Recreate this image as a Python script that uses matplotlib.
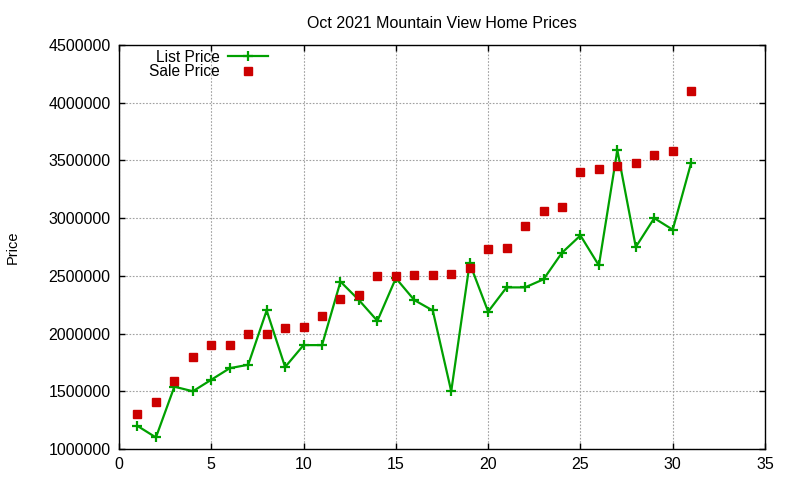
import matplotlib
matplotlib.use("Agg")
import matplotlib.pyplot as plt
from matplotlib.ticker import MultipleLocator, FormatStrFormatter

# data (day of month, price)
days = list(range(1, 32))
list_price = [1200000, 1100000, 1540000, 1500000, 1600000, 1700000, 1730000, 2200000,
              1710000, 1900000, 1900000, 2450000, 2290000, 2110000, 2480000, 2290000,
              2200000, 1500000, 2610000, 2190000, 2400000, 2400000, 2470000, 2700000,
              2850000, 2590000, 3590000, 2750000, 3000000, 2900000, 3480000]
sale_price = [1300000, 1410000, 1590000, 1800000, 1900000, 1900000, 2000000, 2000000,
              2050000, 2060000, 2150000, 2300000, 2330000, 2500000, 2500000, 2510000,
              2510000, 2520000, 2570000, 2730000, 2740000, 2930000, 3060000, 3100000,
              3400000, 3430000, 3450000, 3480000, 3550000, 3580000, 4100000]

plt.rcParams["font.family"] = ["Liberation Sans", "DejaVu Sans"]
plt.rcParams["font.size"] = 11.5

fig = plt.figure(figsize=(8, 4.8), dpi=100)
ax = fig.add_axes([119 / 800, 31 / 480, 646 / 800, 404 / 480])

ax.plot(days, list_price, color="#00a000", lw=1.6, marker="+", ms=7, mew=1.6,
        label="List Price", zorder=3)
ax.plot(days, sale_price, ls="none", color="#cc0000", marker="s", ms=5.8,
        label="Sale Price", zorder=4)

ax.set_xlim(0, 35)
ax.set_ylim(1000000, 4500000)
ax.xaxis.set_major_locator(MultipleLocator(5))
ax.yaxis.set_major_locator(MultipleLocator(500000))
ax.yaxis.set_major_formatter(FormatStrFormatter("%d"))
ax.tick_params(direction="in", top=True, right=True, length=4, width=1, pad=6)
for s in ax.spines.values():
    s.set_linewidth(1)
ax.grid(True, color="#a0a0a0", ls=(0, (1.5, 1.5)), lw=0.8)

ax.set_title("Oct 2021 Mountain View Home Prices", pad=12, fontsize=11.5)
ax.set_ylabel("Price", fontsize=10.5)
ax.yaxis.set_label_coords(-0.153, 0.5)

ax.legend(loc="upper right", bbox_to_anchor=(0.231, 0.988), frameon=False,
          markerfirst=False, borderpad=0, borderaxespad=0, handlelength=2.6,
          handletextpad=0.5, labelspacing=-0.05, fontsize=11.2)

fig.savefig("out.png", dpi=100)
